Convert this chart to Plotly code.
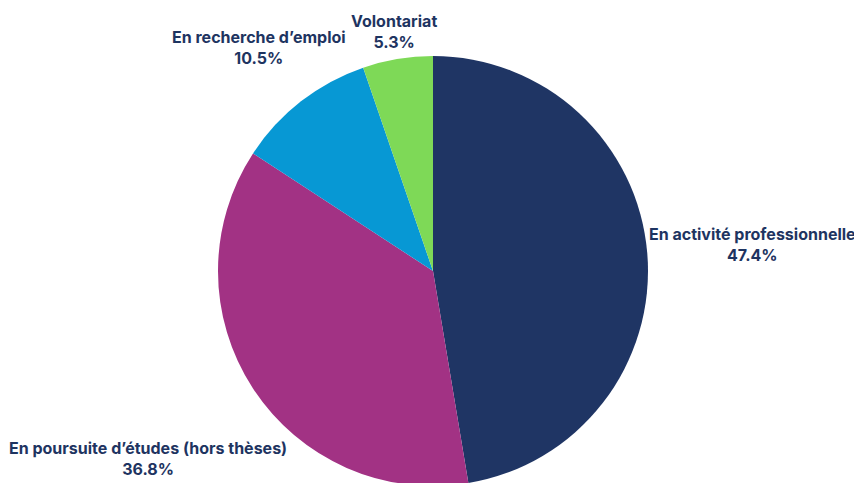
import plotly.graph_objects as go

labels = ["En activité professionnelle", "En poursuite d’études (hors thèses)",
          "En recherche d’emploi", "Volontariat"]
values = [9, 7, 2, 1]
colors = ["#1f3564", "#a23284", "#0798d4", "#7ed957"]

# label block centres (figure pixels) -- layout only
label_pos = [(744, 237), (139.5, 450), (250.5, 40), (385.5, 23)]

W, H = 862, 483
cx, cy, r = 425, 263, 215

total = sum(values)
fig = go.Figure(go.Pie(
    labels=labels, values=values, sort=False, direction="clockwise", rotation=0,
    marker=dict(colors=colors, line=dict(width=0)),
    textinfo="none", showlegend=False, hoverinfo="label+percent",
    domain=dict(x=[(cx - r) / W, (cx + r) / W], y=[1 - (cy + r) / H, 1 - (cy - r) / H]),
))
for lab, v, (px, py) in zip(labels, values, label_pos):
    fig.add_annotation(
        x=px / W, y=1 - py / H, xref="paper", yref="paper",
        xanchor="center", yanchor="middle", align="center", showarrow=False,
        text=f"<b>{lab}</b><br><b>{v / total * 100:.1f}%</b>",
        font=dict(family="Inter", size=16, color="#1e3461"),
    )
fig.update_layout(width=W, height=H, margin=dict(l=0, r=0, t=0, b=0),
                  paper_bgcolor="white", plot_bgcolor="white")
fig.write_html("out.html")
